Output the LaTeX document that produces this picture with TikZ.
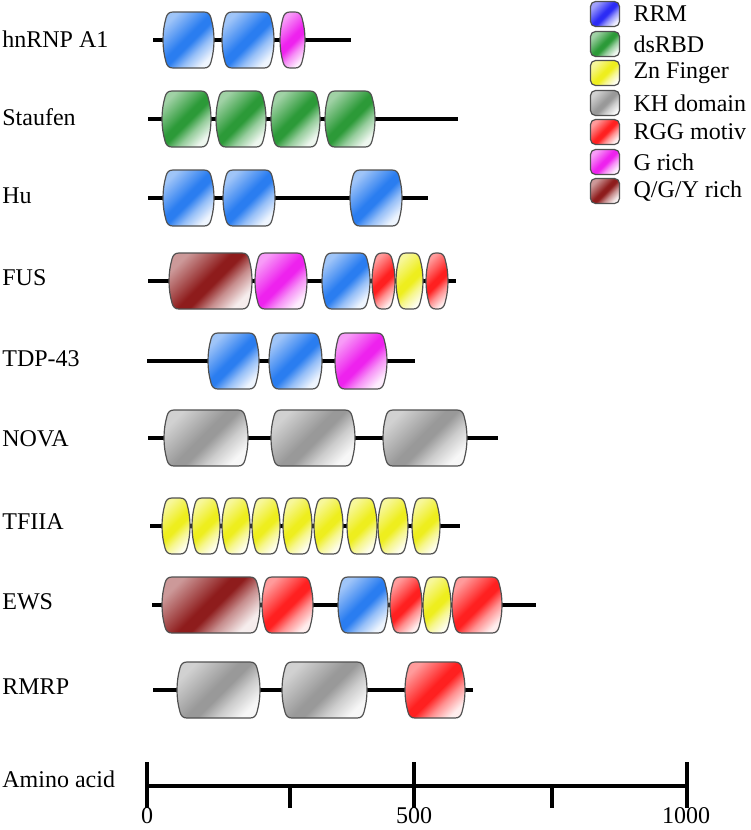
\documentclass[tikz,border=0pt]{standalone}
\usepackage{xcolor}
\usepackage{fontspec}
\setmainfont{Liberation Serif}
\usepackage{tikz}
\usetikzlibrary{positioning}
\definecolor{rrmblue}{HTML}{2A7DF0}
\definecolor{legblue}{HTML}{2B2BF5}
\definecolor{dsgreen}{HTML}{2C9A38}
\definecolor{znyellow}{HTML}{EEEE1E}
\definecolor{khgrey}{HTML}{999999}
\definecolor{rggred}{HTML}{FF2020}
\definecolor{gpink}{HTML}{EE22EE}
\definecolor{qgybrown}{HTML}{8E1C1C}
\definecolor{domedge}{HTML}{505050}
\colorlet{domdark}{black}\colorlet{domlight}{gray}\colorlet{domlite}{white}
\colorlet{domlowmid}{gray}\colorlet{domhimid}{gray}
\pgfdeclareverticalshading[domlite,domlowmid,domdark,domhimid,domlight]{domshade}{100bp}{%
  color(0bp)=(domlite); color(25bp)=(domlite); color(37bp)=(domlowmid);
  color(47bp)=(domdark); color(53bp)=(domdark); color(63bp)=(domhimid);
  color(75bp)=(domlight); color(100bp)=(domlight)}

% left, right, backbone y, style
\newcommand{\protdomain}[4]{%
  \path[#4] (#1+10,#3-28) -- (#2-10,#3-28)
    .. controls (#2-6,#3-28) and (#2-4.1,#3-26) .. (#2-3,#3-22)
    .. controls (#2+1,#3-8) and (#2+1,#3+8) .. (#2-3,#3+22)
    .. controls (#2-4.1,#3+26) and (#2-6,#3+28) .. (#2-10,#3+28)
    -- (#1+10,#3+28)
    .. controls (#1+6,#3+28) and (#1+4.1,#3+26) .. (#1+3,#3+22)
    .. controls (#1-1,#3+8) and (#1-1,#3-8) .. (#1+3,#3-22)
    .. controls (#1+4.1,#3-26) and (#1+6,#3-28) .. (#1+10,#3-28) -- cycle;}

\begin{document}
\begin{tikzpicture}[x=0.5pt, y=-0.5pt, font=\fontsize{12}{14}\selectfont,
    backbone/.style={line width=1.6pt, black},
    dom/.style={draw=domedge, line width=0.6pt,
      /utils/exec={\colorlet{domdark}{#1}\colorlet{domlight}{#1!45!white}\colorlet{domlite}{#1!8!white}%
        \colorlet{domlowmid}{#1!50!white}\colorlet{domhimid}{#1!75!white}},
      shade, shading=domshade, shading angle=45},
    rrm/.style={dom=rrmblue}, dsrbd/.style={dom=dsgreen}, zn/.style={dom=znyellow},
    kh/.style={dom=khgrey}, rgg/.style={dom=rggred}, grich/.style={dom=gpink}, qgy/.style={dom=qgybrown},
    protname/.style={anchor=west, inner sep=0pt},
    legbox/.style={rectangle, rounded corners=2.5pt, minimum width=14.5pt, minimum height=12.5pt, inner sep=0pt},
    legtext/.style={right=2.5pt of #1, inner sep=4pt},
    axisline/.style={line width=1.8pt, black}]
    \useasboundingbox (0,0) rectangle (750,830);

    % protein names
    \node[protname] (hnrnp) at (2,39) {hnRNP A1};
    \node[protname] (staufen) at (2,117) {Staufen};
    \node[protname] (hu) at (2,196) {Hu};
    \node[protname] (fus) at (2,278) {FUS};
    \node[protname] (tdp) at (2,359) {TDP-43};
    \node[protname] (nova) at (2,439) {NOVA};
    \node[protname] (tfiia) at (2,522) {TFIIA};
    \node[protname] (ews) at (2,602) {EWS};
    \node[protname] (rmrp) at (2,687) {RMRP};
    \node[protname] (amino) at (2,779) {Amino acid};

    % backbones
    \coordinate (hnrnp-a) at (153,40);  \coordinate (hnrnp-b) at (351,40);
    \coordinate (staufen-a) at (148,119); \coordinate (staufen-b) at (458,119);
    \coordinate (hu-a) at (148,198); \coordinate (hu-b) at (428,198);
    \coordinate (fus-a) at (148,281); \coordinate (fus-b) at (456,281);
    \coordinate (tdp-a) at (147,361); \coordinate (tdp-b) at (415,361);
    \coordinate (nova-a) at (148,438); \coordinate (nova-b) at (498,438);
    \coordinate (tfiia-a) at (150,526); \coordinate (tfiia-b) at (460,526);
    \coordinate (ews-a) at (152,605); \coordinate (ews-b) at (536,605);
    \coordinate (rmrp-a) at (153,690); \coordinate (rmrp-b) at (473,690);
    \draw[backbone] (hnrnp-a) -- (hnrnp-b);
    \draw[backbone] (staufen-a) -- (staufen-b);
    \draw[backbone] (hu-a) -- (hu-b);
    \draw[backbone] (fus-a) -- (fus-b);
    \draw[backbone] (tdp-a) -- (tdp-b);
    \draw[backbone] (nova-a) -- (nova-b);
    \draw[backbone] (tfiia-a) -- (tfiia-b);
    \draw[backbone] (ews-a) -- (ews-b);
    \draw[backbone] (rmrp-a) -- (rmrp-b);

    % domains
    \protdomain{163}{214}{40}{rrm}
    \protdomain{222}{274}{40}{rrm}
    \protdomain{280}{305}{40}{grich}

    \protdomain{162}{211}{119}{dsrbd}
    \protdomain{216}{266}{119}{dsrbd}
    \protdomain{271}{320}{119}{dsrbd}
    \protdomain{325}{375}{119}{dsrbd}

    \protdomain{163}{214}{198}{rrm}
    \protdomain{223}{275}{198}{rrm}
    \protdomain{350}{402}{198}{rrm}

    \protdomain{169}{252}{281}{qgy}
    \protdomain{255}{307}{281}{grich}
    \protdomain{322}{370}{281}{rrm}
    \protdomain{372}{395}{281}{rgg}
    \protdomain{396}{423}{281}{zn}
    \protdomain{426}{448}{281}{rgg}

    \protdomain{208}{259}{361}{rrm}
    \protdomain{269}{322}{361}{rrm}
    \protdomain{335}{387}{361}{grich}

    \protdomain{164}{248}{438}{kh}
    \protdomain{271}{355}{438}{kh}
    \protdomain{383}{467}{438}{kh}

    \protdomain{162}{190}{526}{zn}
    \protdomain{192}{220}{526}{zn}
    \protdomain{222}{250}{526}{zn}
    \protdomain{252}{280}{526}{zn}
    \protdomain{283}{312}{526}{zn}
    \protdomain{314}{343}{526}{zn}
    \protdomain{347}{377}{526}{zn}
    \protdomain{378}{408}{526}{zn}
    \protdomain{412}{440}{526}{zn}

    \protdomain{162}{260}{605}{qgy}
    \protdomain{262}{313}{605}{rgg}
    \protdomain{338}{388}{605}{rrm}
    \protdomain{390}{422}{605}{rgg}
    \protdomain{423}{451}{605}{zn}
    \protdomain{452}{502}{605}{rgg}

    \protdomain{177}{260}{690}{kh}
    \protdomain{282}{367}{690}{kh}
    \protdomain{405}{465}{690}{rgg}

    % legend
    \node[legbox, dom=legblue] (leg-rrm) at (605,14) {};
    \node[legbox, dsrbd] (leg-ds) at (605,44) {};
    \node[legbox, zn] (leg-zn) at (605,73) {};
    \node[legbox, kh] (leg-kh) at (605,103) {};
    \node[legbox, rgg] (leg-rgg) at (605,132) {};
    \node[legbox, grich] (leg-g) at (605,162) {};
    \node[legbox, qgy] (leg-qgy) at (605,191) {};
    \node[legtext=leg-rrm] (txt-rrm) {RRM};
    \node[legtext=leg-ds] (txt-ds) {dsRBD};
    \node[legtext=leg-zn] (txt-zn) {Zn Finger};
    \node[legtext=leg-kh] (txt-kh) {KH domain};
    \node[legtext=leg-rgg] (txt-rgg) {RGG motiv};
    \node[legtext=leg-g] (txt-g) {G rich};
    \node[legtext=leg-qgy] (txt-qgy) {Q/G/Y rich};

    % amino acid scale
    \coordinate (ax-0) at (147,786);
    \coordinate (ax-250) at (290,786);
    \coordinate (ax-500) at (414,786);
    \coordinate (ax-750) at (552,786);
    \coordinate (ax-1000) at (687,786);
    \draw[axisline] (ax-0) -- (ax-1000);
    \draw[axisline] ([yshift=12pt]ax-0) -- ([yshift=-11pt]ax-0);
    \draw[axisline] ([yshift=12pt]ax-500) -- ([yshift=-11pt]ax-500);
    \draw[axisline] ([yshift=12pt]ax-1000) -- ([yshift=-11pt]ax-1000);
    \draw[axisline] (ax-250) -- ([yshift=-11pt]ax-250);
    \draw[axisline] (ax-750) -- ([yshift=-11pt]ax-750);
    \node[inner sep=0pt] (num-0) at (147,816) {0};
    \node[inner sep=0pt] (num-500) at (414,816) {500};
    \node[inner sep=0pt] (num-1000) at (686,816) {1000};
\end{tikzpicture}
\end{document}
